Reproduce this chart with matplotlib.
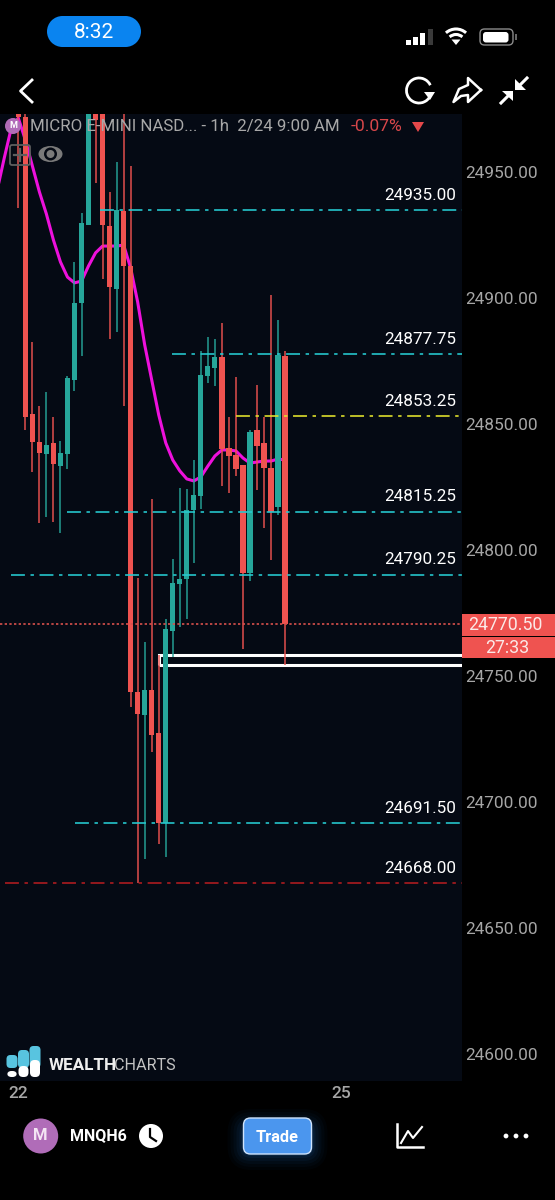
import matplotlib
matplotlib.use("Agg")
import matplotlib.pyplot as plt
from matplotlib.lines import Line2D
from matplotlib.patches import Arc, Circle, Ellipse, FancyBboxPatch, Polygon, Rectangle

plt.rcParams['font.family'] = ['Roboto', 'DejaVu Sans']

# candles, hourly, left to right. tops of a few bars run off the chart
opens = [24976, 24971.8, 24854.0, 24842.9, 24838.1, 24842.5, 24833.3, 24838.1, 24867.5, 24898.0,
         24929.0, 24985, 24985, 24928.6, 24903.6, 24934.5, 24912.7, 24743.7, 24734.6, 24744.5,
         24727.4, 24691.5, 24767.9, 24786.5, 24788.5, 24815.9, 24821.4, 24869.1, 24872.2, 24876.6,
         24840.5, 24837.7, 24833.7, 24790.9, 24847.6, 24842.5, 24832.5, 24817.1, 24877.0]
closes = [24972.0, 24852.8, 24842.9, 24838.5, 24841.7, 24834.1, 24838.5, 24868.3, 24898.0, 24929.8,
          24985, 24970.6, 24929.0, 24904.4, 24934.9, 24912.7, 24743.7, 24735.0, 24744.5, 24726.6,
          24691.7, 24768.7, 24786.9, 24788.5, 24815.9, 24821.8, 24869.4, 24873.0, 24876.6, 24840.1,
          24837.3, 24832.2, 24790.9, 24846.8, 24841.3, 24832.5, 24815.1, 24877.4, 24770.5]
highs = [24985, 24985, 24882.5, 24857.1, 24862.7, 24852.8, 24843.3, 24869.1, 24914.3, 24933.7,
         24990, 24990, 24985, 24942.1, 24954.0, 24985, 24952.4, 24788.9, 24763.5, 24820.2,
         24758.3, 24772.6, 24796.4, 24824.6, 24824.2, 24835.7, 24879.0, 24884.5, 24883.7, 24890.1,
         24852.8, 24868.7, 24833.7, 24847.6, 24865.5, 24852.8, 24901.2, 24891.3, 24879.0]
lows = [24935.7, 24847.6, 24831.0, 24810.7, 24813.1, 24811.1, 24806.8, 24832.2, 24863.1, 24877.0,
        24929.0, 24945.6, 24907.5, 24883.7, 24886.5, 24857.1, 24737.7, 24667.9, 24677.4, 24719.9,
        24683.3, 24678.2, 24757.6, 24769.5, 24772.6, 24794.9, 24816.3, 24866.3, 24865.1, 24825.4,
        24822.6, 24829.4, 24760.7, 24787.7, 24823.8, 24808.7, 24796.0, 24813.9, 24754.4]

# moving average, starts 3 bars before the first candle
ma_start = -3
ma_values = [24942.9, 24955.6, 24967.5, 24971.4, 24962.7, 24952.4, 24942.1, 24933.3, 24923.0, 24914.3,
             24908.3, 24906.0, 24906.7, 24912.7, 24917.9, 24920.6, 24920.6, 24920.6, 24921.0, 24911.9,
             24898.4, 24881.4, 24867.5, 24853.6, 24842.5, 24835.7, 24831.4, 24828.2, 24827.4, 24829.0,
             24833.3, 24837.3, 24839.7, 24839.7, 24839.3, 24836.5, 24834.5, 24834.9, 24835.3, 24835.3,
             24836.1, 24835.7]

# drawn levels: price, bar where it starts
level_prices = [24935.00, 24877.75, 24853.25, 24815.25, 24790.25, 24691.50, 24668.00]
level_starts = [11.6, 21.9, 31.0, 6.9, -1.0, 8.1, -1.9]
level_colors = ['#25c9d0', '#25c9d0', '#e2e22c', '#25c9d0', '#25c9d0', '#25c9d0', '#b01c20']

last_price = 24770.50
zone_low = 24754.4
zone_high = 24758.3
zone_start = 20.1

price_ticks = [24950, 24900, 24850, 24800, 24750, 24700, 24650, 24600]
date_ticks = [0, 46]
date_labels = ['22', '25']

RED = '#ef5350'
GREEN = '#26a69a'
BG = '#050a14'
GRAY = '#a6a6a6'

fig = plt.figure(figsize=(5.55, 12), dpi=100, facecolor='black')
# pixels -> figure fractions for the chart pane (x 0-462, y 114-1081)
ax = fig.add_axes([0, 1 - 1081 / 1200, 462 / 555, (1081 - 114) / 1200], facecolor=BG)
ax.set_xlim(-2.61, 63.2)
ax.set_ylim(24589.3, 24973.0)
for s in ax.spines.values():
    s.set_visible(False)

# Candles
for i in range(len(opens)):
    col = GREEN if closes[i] >= opens[i] else RED
    ax.vlines(i, lows[i], highs[i], color=col, lw=1.3, alpha=0.8, zorder=4)
    bottom = min(opens[i], closes[i])
    ax.bar(i, abs(closes[i] - opens[i]), bottom=bottom, width=0.74, color=col, zorder=5)

# MA under the candles
ax.plot(range(ma_start, ma_start + len(ma_values)), ma_values, color='#ee10dc', lw=2.2,
        solid_joinstyle='round', zorder=3)

# white zone box
ax.add_patch(Rectangle((zone_start, zone_low), 80, zone_high - zone_low, fill=False,
                       edgecolor='white', lw=2.2, zorder=2))

# Levels with labels
for p, st, c in zip(level_prices, level_starts, level_colors):
    ax.plot([st, 63.2], [p, p], color=c, lw=1.3, linestyle=(0, (7.7, 3.1, 1.9, 3.1)), alpha=0.9, zorder=6)
    ax.annotate("{0:.2f}".format(p), xy=(1, p), xycoords=('axes fraction', 'data'),
                xytext=(-4.3, 10.5), textcoords='offset points', ha='right', va='center',
                color='white', fontsize=12.3, zorder=8)

# last price
ax.axhline(last_price, color='#d9504c', lw=1.2, linestyle=(0, (1.4, 1.4)), zorder=6)

# Axes labels
ax.yaxis.tick_right()
ax.set_yticks(price_ticks)
ax.set_yticklabels(["{0:.2f}".format(p) for p in price_ticks])
ax.tick_params(axis='y', length=0, pad=2.4, labelcolor=GRAY, labelsize=12.4)
ax.set_xticks(date_ticks)
ax.set_xticklabels(date_labels)
ax.tick_params(axis='x', length=0, pad=3.5, labelcolor=GRAY, labelsize=12.5)
for lab in ax.get_xticklabels():
    lab.set_fontweight('medium')

# Overlay in screen pixels for all the phone chrome
over = fig.add_axes([0, 0, 1, 1], facecolor='none')
over.set_xlim(0, 555)
over.set_ylim(1200, 0)
over.axis('off')

# Price tags
over.add_patch(Rectangle((462, 614), 93, 22, color=RED, lw=0))
over.add_patch(Rectangle((462, 637), 93, 21, color=RED, lw=0))
over.text(505, 625, "{0:.2f}".format(last_price), color='#fbe9e7', fontsize=12.8, ha='center', va='center')
over.text(507, 648, '27:33', color='#fbe9e7', fontsize=12.8, ha='center', va='center')

# Status bar
over.add_patch(Circle((62.5, 31.5), 15.5, color='#0a84f0', lw=0))
over.add_patch(Circle((125.5, 31.5), 15.5, color='#0a84f0', lw=0))
over.add_patch(Rectangle((62, 16), 64, 31, color='#0a84f0', lw=0))
over.text(94, 32, '8:32', color='white', fontsize=15, ha='center', va='center')
for bx, bh, bc in zip([406, 413, 420, 428], [5, 8, 12, 16], ['white', 'white', 'white', '#3a3a3a']):
    over.add_patch(Rectangle((bx, 45 - bh), 4.5, bh, color=bc, lw=0))
for r in [15, 9.5]:
    over.add_patch(Arc((456, 44), r * 2, r * 2, theta1=228, theta2=312, color='white', lw=2.2))
over.add_patch(Polygon([[451.5, 39.5], [460.5, 39.5], [456, 45]], color='white', lw=0))
over.add_patch(FancyBboxPatch((480, 29), 33, 16, boxstyle='round,pad=0,rounding_size=4.5', fill=False,
                              edgecolor='#8a8a8a', lw=1))
over.add_patch(FancyBboxPatch((483, 32), 25.5, 10.5, boxstyle='round,pad=0,rounding_size=3', color='white', lw=0))
over.add_patch(Rectangle((515, 34), 1.5, 6, color='#666666', lw=0))

# Nav bar
over.add_line(Line2D([32, 20.5, 32], [80, 91, 102], color='white', lw=2.0))
over.add_patch(Arc((419, 90.5), 25, 25, theta1=25, theta2=335, color='white', lw=2.0))
over.add_patch(Polygon([[424, 92], [435, 92], [430, 100]], color='white', lw=0))
over.add_line(Line2D([481, 468, 468, 459, 453.5, 461, 468, 468, 481],
                     [90, 78, 85, 89, 102, 96, 95, 102, 90], color='white', lw=1.8))
over.add_line(Line2D([527, 518], [78, 87], color='white', lw=2.2))
over.add_patch(Polygon([[515, 79], [515, 90], [526, 90]], color='white', lw=0))
over.add_line(Line2D([501, 510], [103, 94], color='white', lw=2.2))
over.add_patch(Polygon([[513, 91], [502, 91], [513, 101]], color='white', lw=0))

# Chart header
over.add_patch(Circle((13, 126), 8, color='#b06cb8', lw=0))
over.text(13, 126, 'M', color='white', fontsize=6.5, fontweight='bold', ha='center', va='center')
over.text(30, 126.5, 'MICRO E-MINI NASD... - 1h  2/24 9:00 AM', color='#a8a8a8', fontsize=12.2, va='center')
over.text(351, 126.5, '-0.07%', color='#d8474a', fontsize=12.6, va='center')
over.add_patch(Polygon([[412, 122], [424, 122], [418, 132]], color='#e5484a', lw=0))
over.add_patch(FancyBboxPatch((10, 145), 20, 20, boxstyle='round,pad=0,rounding_size=2', fill=False,
                              edgecolor='#5e5e5e', lw=1.3))
over.add_line(Line2D([20, 20], [149, 161], color='#5e5e5e', lw=1.6))
over.add_line(Line2D([14, 26], [155, 155], color='#5e5e5e', lw=1.6))
over.add_patch(Ellipse((50.5, 154), 24, 16, color='#7a7a7a', lw=0))
over.add_patch(Circle((50.5, 154), 6.5, color=BG, lw=0))
over.add_patch(Circle((50.5, 154), 4, color='#7a7a7a', lw=0))

# Logo
for bx, by in zip([12, 23.5, 35], [1055, 1050, 1046]):
    over.add_patch(FancyBboxPatch((bx - 5.5, by), 11, 1068 - by, boxstyle='round,pad=0,rounding_size=4',
                                  color='#58c4e0', lw=0))
for bx, by in zip([12, 23.5, 35], [1071, 1066, 1060]):
    over.add_patch(FancyBboxPatch((bx - 5, by), 10, 1077 - by, boxstyle='round,pad=0,rounding_size=4.5',
                                  color='white', lw=0))
over.text(49, 1065, 'WEALTH', color='#eeeeee', fontsize=12.3, fontweight='bold', va='center')
over.text(114, 1065, 'CHARTS', color='#c4c4c4', fontsize=11.6, va='center')

# Bottom bar
over.add_patch(Circle((40.7, 1136), 17.5, color='#b06cb8', lw=0))
over.text(40.7, 1136, 'M', color='#f4e4f4', fontsize=12, fontweight='bold', ha='center', va='center')
over.text(70, 1136, 'MNQH6', color='white', fontsize=11.5, fontweight='bold', va='center')
over.add_patch(Circle((151, 1136), 12, color='white', lw=0))
over.add_line(Line2D([150, 150, 156], [1129, 1137, 1141], color='black', lw=1.6))
# glow behind the button
for pad, a in zip([16, 13, 10, 7, 4, 2], [0.03, 0.04, 0.05, 0.07, 0.09, 0.12]):
    over.add_patch(FancyBboxPatch((243.5 - pad, 1118 - pad + 7), 68 + 2 * pad, 36 + 2 * pad - 7,
                                  boxstyle='round,pad=0,rounding_size=%d' % (8 + pad), color='#1f6fc0', alpha=a, lw=0))
over.add_patch(FancyBboxPatch((243.5, 1118), 68, 36, boxstyle='round,pad=0,rounding_size=7',
                              facecolor='#4b96ee', edgecolor='#cfe3fb', lw=1.0))
over.text(277.5, 1137, 'Trade', color='white', fontsize=11.8, fontweight='bold', ha='center', va='center')
over.add_line(Line2D([397, 397, 423], [1124, 1147, 1147], color='white', lw=1.8))
over.add_line(Line2D([401, 408, 413, 422], [1143, 1131, 1138, 1127], color='white', lw=1.5))
for dx in [506, 516, 526]:
    over.add_patch(Circle((dx, 1136), 2.4, color='white', lw=0))

fig.savefig('out.png', dpi=100, facecolor='black')
